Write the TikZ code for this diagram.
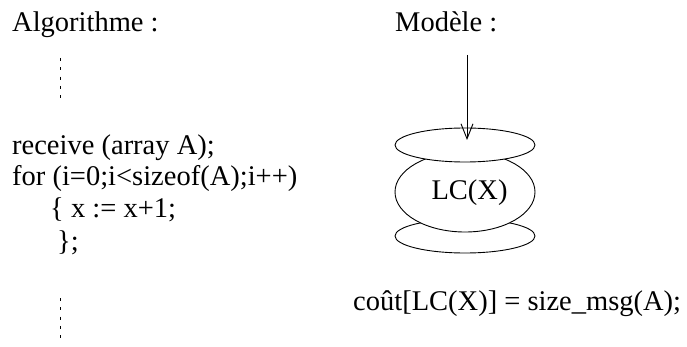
\documentclass[tikz,border=0pt]{standalone}
\usepackage{fontspec}
\setmainfont{Liberation Serif}
\usetikzlibrary{shapes.geometric,arrows.meta}
\begin{document}
\begin{tikzpicture}[x=1pt,y=-1pt,
  txt/.style={anchor=base west,inner sep=0pt,font=\fontsize{28.5}{34}\selectfont},
  disk/.style={ellipse,draw,fill=white,line width=0.9pt,inner sep=0pt,minimum width=140pt},
  vdots/.style={line width=0.9pt,dash pattern=on 3pt off 6.3pt},
  arr/.style={line width=0.9pt,-{Straight Barb[length=15pt,width=12pt,line width=0.9pt]}}]
\useasboundingbox (0,0) rectangle (687,347);
% left column
\node[txt] (alg) at (12,32) {Algorithme :};
\coordinate (d1a) at (60,58);
\coordinate (d1b) at (60,101);
\draw[vdots] (d1a) -- (d1b);
\node[txt] (l1) at (12,155) {receive (array A);};
\node[txt] (l2) at (12,186) {for (i=0;i<sizeof(A);i++)};
\node[txt] (l3) at (50,218) {\{ x := x+1;};
\node[txt] (l4) at (57,250) {\};};
\coordinate (d2a) at (60,298);
\coordinate (d2b) at (60,341);
\draw[vdots] (d2a) -- (d2b);
% right column
\node[txt] (mod) at (395,32) {Modèle :};
\node[disk,minimum height=34pt] (bot) at (465,236) {};
\node[disk,minimum height=80pt] (mid) at (465,192) {};
\node[disk,minimum height=34pt] (top) at (465,145) {};
\node[inner sep=0pt,anchor=base,font=\fontsize{28.5}{34}\selectfont] (lab) at (469.5,200) {LC(X)};
\coordinate (arrS) at (467,55);
\coordinate (arrE) at (467,140);
\draw[arr] (arrS) -- (arrE);
\node[txt] (cost) at (353,310) {coût[LC(X)] = size\_msg(A);};
\end{tikzpicture}
\end{document}
